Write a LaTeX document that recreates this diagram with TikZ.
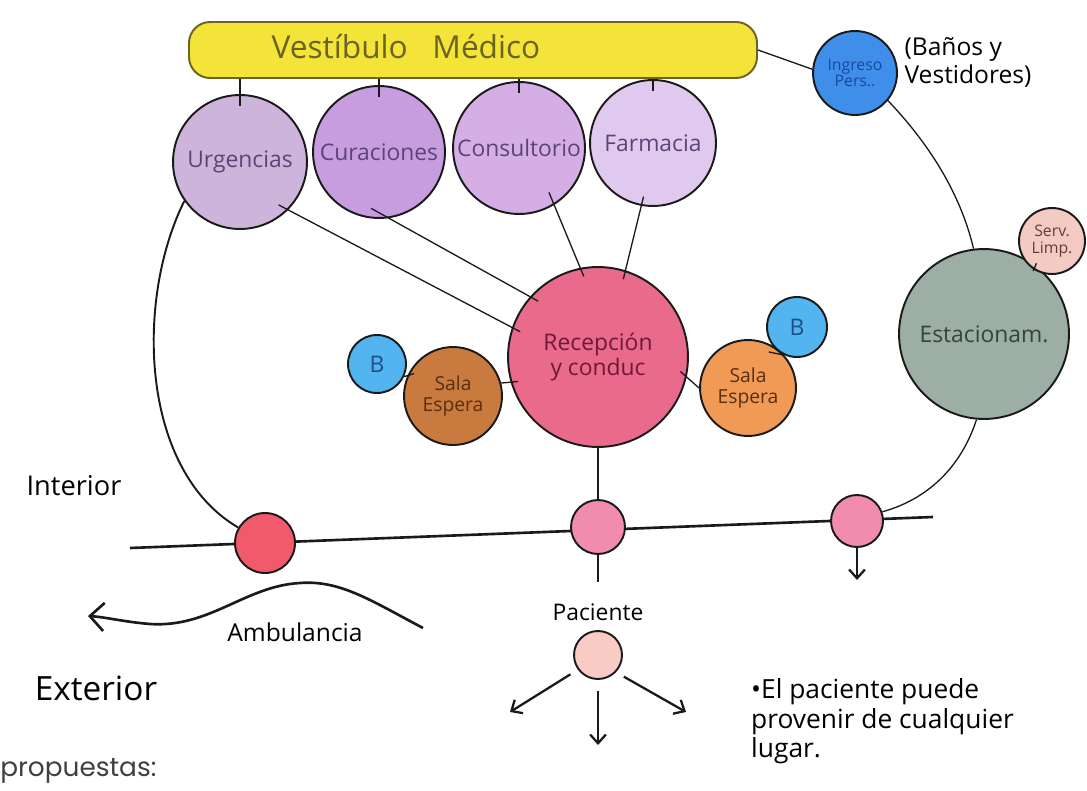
\documentclass[tikz,border=0pt]{standalone}
\usepackage{fontspec}
\setmainfont{Open Sans}
\newfontfamily\capfont{Poppins}
\usetikzlibrary{arrows.meta,calc}
\definecolor{vestfill}{HTML}{F4E43A}
\definecolor{vestink}{HTML}{6A6420}
\definecolor{urgfill}{HTML}{CDB4DA}
\definecolor{curfill}{HTML}{C79DE0}
\definecolor{consfill}{HTML}{D5AEE5}
\definecolor{farmfill}{HTML}{E0C9EE}
\definecolor{roomink}{HTML}{5B4478}
\definecolor{ingfill}{HTML}{3E8EEA}
\definecolor{ingink}{HTML}{1A4A9A}
\definecolor{recfill}{HTML}{EA6A8C}
\definecolor{recink}{HTML}{6E1A34}
\definecolor{salaLfill}{HTML}{C97A3E}
\definecolor{salaRfill}{HTML}{F09A55}
\definecolor{salaink}{HTML}{5A2E10}
\definecolor{bathfill}{HTML}{52B5EF}
\definecolor{bathink}{HTML}{1F4E8A}
\definecolor{estfill}{HTML}{9DAEA5}
\definecolor{estink}{HTML}{34443C}
\definecolor{servfill}{HTML}{F4CBC3}
\definecolor{servink}{HTML}{6A3A34}
\definecolor{ambfill}{HTML}{F05A6A}
\definecolor{gatefill}{HTML}{F28CAE}
\definecolor{patfill}{HTML}{F8CCC4}
\definecolor{ink}{HTML}{1A1A1A}
\begin{document}
\begin{tikzpicture}[x=0.02cm,y=-0.02cm,
  room/.style={circle,draw=ink,line width=1.1pt,inner sep=0pt,
    minimum size=#1*0.04cm,align=center},
  link/.style={draw=ink,line width=0.75pt},
  heavy/.style={draw=ink,line width=1.5pt},
  hand/.style={font=\fontsize{13}{14}\selectfont,align=center},
  small/.style={font=\fontsize{9}{9.5}\selectfont,align=center},
  barb/.style={-{Straight Barb[length=5pt,width=9pt,line width=1.3pt]},line width=1.3pt,draw=ink}
]
\useasboundingbox (0,0) rectangle (1087,790);

% medical lobby bar
\node[draw=vestink,fill=vestfill,line width=1.1pt,rounded corners=12pt,
  minimum width=568*0.02cm,minimum height=56*0.02cm] (vest) at (473,50) {};
\node[hand,text=vestink,font=\fontsize{18}{19}\selectfont] (vestlabel) at (406,47) {Vestíbulo\ \ \ Médico};

% services hanging from the lobby
\node[room=67,fill=urgfill,text=roomink,hand] (urg) at (240,162) {Urgencias};
\node[room=66,fill=curfill,text=roomink,hand] (cur) at (379,152) {Curaciones};
\node[room=66,fill=consfill,text=roomink,hand] (cons) at (519,148) {Consultorio};
\node[room=63,fill=farmfill,text=roomink,hand] (farm) at (653,143) {Farmacia};
\foreach \r in {urg,cur,cons,farm}
  \draw[link,line width=1pt] ($(\r.north)+(0,12)$) -- (\r.north |- vest.south);

% staff entrance
\node[room=42,fill=ingfill,text=ingink,small] (ing) at (855,73) {Ingreso\\Pers..};
\node[hand,align=left,font=\fontsize{14}{16}\selectfont] (ingnote) at (968,62) {(Baños y\\Vestidores)};
\draw[link] (vest.east) -- (ing.175);

% reception and waiting rooms
\node[room=90,fill=recfill,text=recink,hand] (rec) at (598,357) {Recepción\\y conduc};
\node[room=49,fill=salaLfill,text=salaink,hand,font=\fontsize{11}{12}\selectfont] (salaL) at (453,396) {Sala\\Espera};
\node[room=48,fill=salaRfill,text=salaink,hand,font=\fontsize{11}{12}\selectfont] (salaR) at (748,388) {Sala\\Espera};
\node[room=29,fill=bathfill,text=bathink,hand] (bathL) at (377,364) {B};
\node[room=30,fill=bathfill,text=bathink,hand] (bathR) at (797,327) {B};

\draw[link] ($(urg.center)!0.85!(urg.-48)$) -- ($(rec.center)!0.9!(rec.162)$);
\draw[link] ($(cur.center)!0.85!(cur.-98)$) -- ($(rec.center)!0.9!(rec.137)$);
\draw[link] ($(cons.center)!0.8!(cons.-56)$) -- ($(rec.center)!0.9!(rec.100)$);
\draw[link] ($(farm.center)!0.85!(farm.-100)$) -- ($(rec.center)!0.9!(rec.72)$);
\draw[link] (salaL.15) -- ($(rec.center)!0.92!(rec.197)$);
\draw[link] (salaR.180) -- ($(rec.center)!0.92!(rec.-10)$);
\draw[link] (bathL.-25) -- ($(salaL.center)!0.9!(salaL.150)$);
\draw[link] (bathR.-115) -- ($(salaR.center)!0.85!(salaR.60)$);

% parking and cleaning service
\node[room=85,fill=estfill,text=estink,hand] (est) at (984,334) {Estacionam.};
\node[room=33,fill=servfill,text=servink,small] (serv) at (1052,241) {Serv.\\Limp.};
\draw[link] ($(serv.center)!0.8!(serv.-125)$) -- ($(est.center)!0.93!(est.52)$);
\draw[link] (ing.-40) .. controls (935,150) and (962,200) .. (est.97);

% boundary between interior and exterior
\coordinate (westend) at (130,548);
\coordinate (eastend) at (933,517);
\draw[heavy] (westend) -- (eastend);
\node[room=30,fill=ambfill] (amb) at (265,543) {};
\node[room=27,fill=gatefill] (gate) at (598,527) {};
\node[room=26,fill=gatefill] (staff) at (857,521) {};
\draw[heavy] (rec.south) -- (gate.north);
\draw[link,line width=1.1pt] (urg.-145) .. controls (135,300) and (140,470) .. (amb.150);
\draw[link] (est.-95) .. controls (960,470) and (925,500) .. (staff.20);
\coordinate (staffout) at (857,580);
\draw[barb] (staff.south) -- (staffout);

% ambulance route
\coordinate (ambstart) at (423,628);
\coordinate (ambend) at (88,616);
\draw[-{Straight Barb[length=8pt,width=16pt,line width=1.5pt]},line width=1.5pt,draw=ink]
  (ambstart) .. controls (370,600) and (340,580) .. (300,583)
  .. controls (245,586) and (210,628) .. (150,624)
  .. controls (125,622) and (105,617) .. (ambend);
\node[hand,font=\fontsize{14}{15}\selectfont] (amblabel) at (295,632) {Ambulancia};

% patient
\coordinate (gateout) at (598,582);
\draw[heavy] (gate.south) -- (gateout);
\node[hand] (patlabel) at (598,612) {Paciente};
\node[room=24,fill=patfill] (pat) at (598,655) {};
\coordinate (patL) at (510,712);
\coordinate (patD) at (598,745);
\coordinate (patR) at (686,712);
\draw[barb] ($(pat.center)!1.35!(pat.-145)$) -- (patL);
\draw[barb] ($(pat.center)!1.45!(pat.-90)$) -- (patD);
\draw[barb] ($(pat.center)!1.35!(pat.-40)$) -- (patR);

% side labels
\node[hand,font=\fontsize{15.5}{16}\selectfont] (interior) at (74,486) {Interior};
\node[hand,font=\fontsize{19}{20}\selectfont] (exterior) at (96,688) {Exterior};
\node[hand,align=left,anchor=north west,font=\fontsize{15}{17}\selectfont] (note) at (745,672)
  {•El paciente puede\\provenir de cualquier\\lugar.};
\node[anchor=west,inner sep=0pt,text=black!75,font=\capfont\fontsize{15}{16}\selectfont] (caption) at (0,771) {propuestas:};
\end{tikzpicture}
\end{document}
